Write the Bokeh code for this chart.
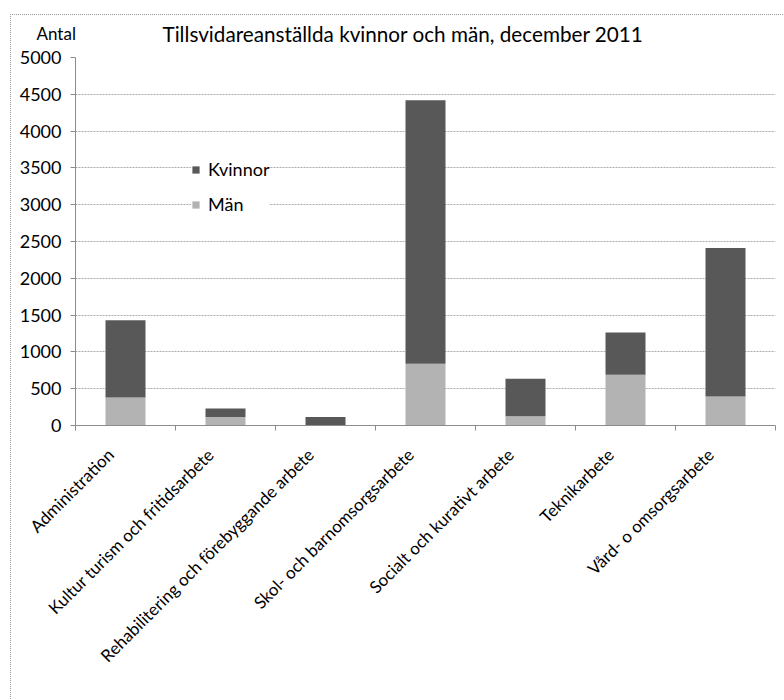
import math
from bokeh.plotting import figure
from bokeh.models import (ColumnDataSource, FixedTicker, Legend, LegendItem,
                          Label, Range1d)
from bokeh.embed import file_html
from bokeh.resources import INLINE

# ---- data -------------------------------------------------------------
categories = [
    "Administration",
    "Kultur turism och fritidsarbete",
    "Rehabilitering och förebyggande arbete",
    "Skol- och barnomsorgsarbete",
    "Socialt och kurativt arbete",
    "Teknikarbete",
    "Vård- o omsorgsarbete",
]
man = [380, 115, 5, 840, 125, 690, 395]
kvinnor = [1050, 115, 110, 3580, 510, 575, 2015]
y_ticks = list(range(0, 5001, 500))

title_text = "Tillsvidareanställda kvinnor och män, december 2011"
y_label = "Antal"
series_names = ["Kvinnor", "Män"]

# ---- styling ----------------------------------------------------------
FONT = "Lato"
COL_K = "#585858"
COL_M = "#b3b3b3"
GRID = "#ababab"
AXIS = "#8c8c8c"
LABEL_SHIFT = 0.15

n = len(categories)
xs = [i + 0.5 for i in range(n)]
label_pos = [x - LABEL_SHIFT for x in xs]
tops = [m + k for m, k in zip(man, kvinnor)]
src = ColumnDataSource(dict(x=xs, man=man, top=tops))

p = figure(width=773, height=685,
           x_range=Range1d(0, n), y_range=Range1d(0, 5000),
           output_backend="svg", toolbar_location=None,
           min_border_left=64, min_border_right=9,
           min_border_top=42, min_border_bottom=275,
           margin=(14, 0, 0, 10))
p.styles = {"border-left": "1px dotted #9a9a9a",
            "border-top": "1px dotted #9a9a9a"}
p.outline_line_color = None
p.background_fill_color = "white"
p.border_fill_color = "white"
p.title.text = ""
p.title.standoff = 0
p.title.visible = False

r_m = p.vbar(x="x", bottom=0, top="man", width=0.4, source=src,
             fill_color=COL_M, line_color=None)
r_k = p.vbar(x="x", bottom="man", top="top", width=0.4, source=src,
             fill_color=COL_K, line_color=None)

# Header texts as labels in side panels (not clipped to the frame);
# canvas units give absolute positions.
p.add_layout(Label(x=150, y=17, x_units="canvas", y_units="canvas",
                   text=title_text, text_font=FONT, text_font_size="20.7px",
                   text_color="black", text_baseline="alphabetic"), "above")
p.add_layout(Label(x=24, y=17, x_units="canvas", y_units="canvas",
                   text=y_label, text_font=FONT, text_font_size="17px",
                   text_color="black", text_baseline="alphabetic"), "below")

# y axis
p.yaxis.ticker = FixedTicker(ticks=y_ticks)
p.yaxis.axis_line_color = AXIS
p.yaxis.major_tick_line_color = AXIS
p.yaxis.major_tick_out = 5
p.yaxis.major_tick_in = 0
p.yaxis.minor_tick_line_color = None
p.yaxis.major_label_standoff = 9
p.yaxis.major_label_text_font = FONT
p.yaxis.major_label_text_font_size = "18px"
p.yaxis.major_label_text_color = "black"

# x axis
p.xaxis.ticker = FixedTicker(ticks=label_pos, minor_ticks=list(range(n + 1)))
p.xaxis.major_label_overrides = {x: c for x, c in zip(label_pos, categories)}
p.xaxis.axis_line_color = AXIS
p.xaxis.major_tick_line_color = None
p.xaxis.minor_tick_line_color = AXIS
p.xaxis.minor_tick_out = 5
p.xaxis.minor_tick_in = 0
p.xaxis.major_label_orientation = math.pi / 4
p.xaxis.major_label_standoff = 20
p.xaxis.major_label_text_font = FONT
p.xaxis.major_label_text_font_size = "17px"
p.xaxis.major_label_text_color = "black"

p.xgrid.grid_line_color = None
p.ygrid.ticker = FixedTicker(ticks=y_ticks)
p.ygrid.grid_line_color = GRID
p.ygrid.grid_line_dash = "2 1"

legend = Legend(items=[LegendItem(label=series_names[0], renderers=[r_k]),
                       LegendItem(label=series_names[1], renderers=[r_m])],
                location=(116, 210), orientation="vertical",
                glyph_width=9, glyph_height=9, label_standoff=8,
                spacing=13, padding=10, margin=0,
                label_text_font=FONT, label_text_font_size="18px",
                label_text_color="black",
                border_line_color=None, background_fill_color="white",
                background_fill_alpha=1.0)
p.add_layout(legend, "center")

open("out.html", "w").write(file_html(p, INLINE))
